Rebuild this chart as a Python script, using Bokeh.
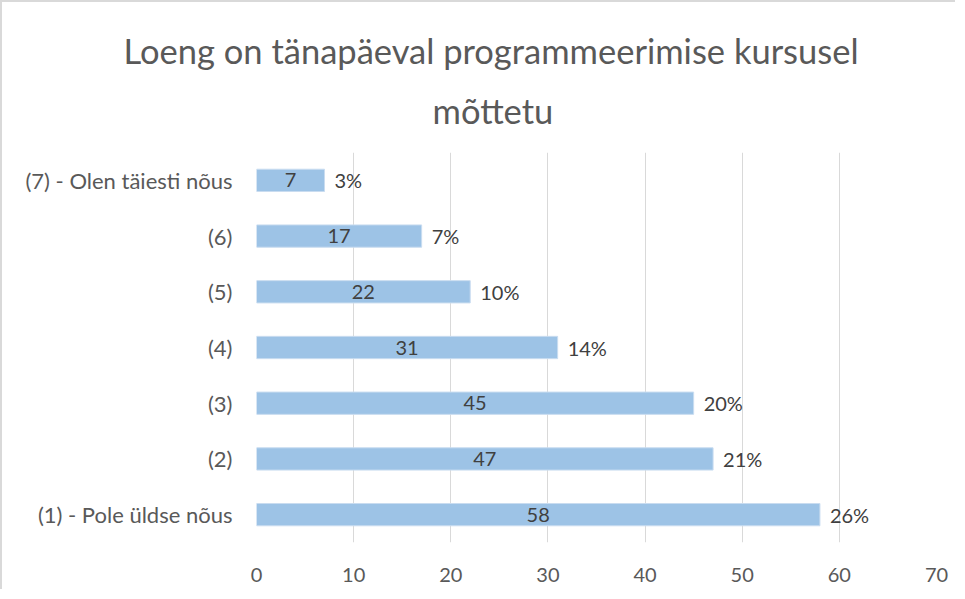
from bokeh.plotting import figure
from bokeh.models import ColumnDataSource, LabelSet, Title, Range1d, FixedTicker
from bokeh.core.properties import value
from bokeh.embed import file_html
from bokeh.resources import INLINE

# ---- data ----
categories = ["(1) - Pole üldse nõus", "(2)", "(3)", "(4)", "(5)", "(6)", "(7) - Olen täiesti nõus"]
counts = [58, 47, 45, 31, 22, 17, 7]
percents = ["26%", "21%", "20%", "14%", "10%", "7%", "3%"]
x_ticks = [0, 10, 20, 30, 40, 50, 60, 70]
title_lines = ["Loeng on tänapäeval programmeerimise kursusel", "mõttetu"]

FONT = "Lato"
TEXT = "#595959"

src = ColumnDataSource(dict(
    cat=categories,
    cnt=counts,
    mid=[c / 2 for c in counts],
    cnt_txt=[str(c) for c in counts],
    pct=percents,
))

p = figure(
    y_range=categories,
    x_range=Range1d(0, 70),
    width=955, height=589,
    output_backend="svg", toolbar_location=None,
    min_border_left=254, min_border_right=21,
    min_border_top=150, min_border_bottom=49,
)
p.styles = {"border-left": "2px solid #d9d9d9", "border-top": "2px solid #d9d9d9"}
p.outline_line_color = None
p.background_fill_color = "white"
p.border_fill_color = "white"

p.hbar(y="cat", right="cnt", left=0, height=0.4, source=src,
       fill_color="#9dc3e6", line_color="#c9dcf0", line_width=1)

p.add_layout(LabelSet(x="mid", y="cat", text="cnt_txt", source=src,
                      text_align="center", text_baseline="middle",
                      text_font=value(FONT), text_font_size="20px", text_color="#404040"))
p.add_layout(LabelSet(x="cnt", y="cat", text="pct", source=src, x_offset=10,
                      text_align="left", text_baseline="middle",
                      text_font=value(FONT), text_font_size="20px", text_color="#404040"))

# axes
p.xaxis.ticker = FixedTicker(ticks=x_ticks)
p.xaxis.axis_line_color = None
p.xaxis.major_tick_line_color = None
p.xaxis.minor_tick_line_color = None
p.xaxis.major_label_standoff = 19
p.xaxis.major_label_text_font = FONT
p.xaxis.major_label_text_font_size = "20px"
p.xaxis.major_label_text_color = TEXT

p.yaxis.axis_line_color = None
p.yaxis.major_tick_line_color = None
p.yaxis.major_label_standoff = 18
p.yaxis.major_label_text_font = FONT
p.yaxis.major_label_text_font_size = "22px"
p.yaxis.major_label_text_color = TEXT

p.xgrid.grid_line_color = "#d9d9d9"
p.xgrid.grid_line_width = 1
p.ygrid.grid_line_color = None

# title: two lines, line 2 added first (closest to the frame)
p.add_layout(Title(text=title_lines[1], align="left", offset=176, standoff=43,
                   text_font=FONT, text_font_size="34.5px", text_font_style="normal",
                   text_color=TEXT), "above")
p.add_layout(Title(text=title_lines[0], align="left", offset=-133, standoff=-9,
                   text_font=FONT, text_font_size="34.5px", text_font_style="normal",
                   text_color=TEXT), "above")

open("out.html", "w").write(file_html(p, INLINE))
